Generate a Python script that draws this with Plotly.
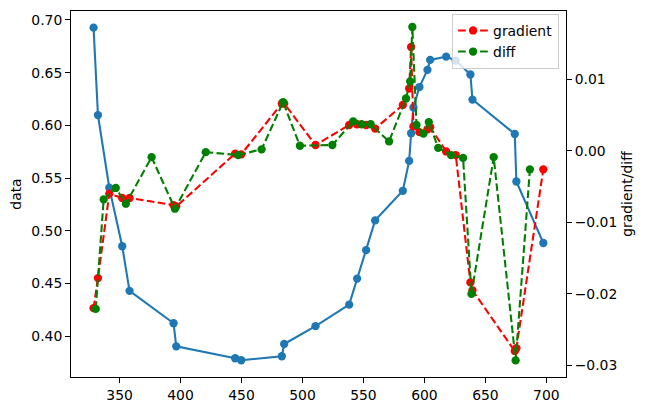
import plotly.graph_objects as go

# data series (blue)
x_data = [328.7, 332.3, 341.6, 352.2, 358.2, 394.3, 396.5, 444.8, 449.8, 483.1,
          485.0, 510.7, 538.3, 544.8, 552.2, 559.6, 582.3, 587.5, 589.1, 591.0,
          595.9, 602.5, 604.7, 617.8, 625.7, 637.7, 639.4, 674.1, 675.4, 697.5]
y_data = [0.6927, 0.6098, 0.5409, 0.4854, 0.4431, 0.4124, 0.3905, 0.3792, 0.3773, 0.3811,
          0.3927, 0.4096, 0.4300, 0.4547, 0.4817, 0.5099, 0.5380, 0.5663, 0.5926, 0.6170,
          0.6364, 0.6527, 0.6621, 0.6652, 0.6615, 0.6483, 0.6245, 0.5919, 0.5468, 0.4885]

# gradient series (red), at the data x positions
y_gradient = [-0.0220, -0.0178, -0.0060, -0.0066, -0.0066, -0.0076, -0.0078, -0.0004, -0.0005, 0.0066,
              0.0066, 0.0008, 0.0036, 0.0037, 0.0036, 0.0031, 0.0064, 0.0087, 0.0145, 0.0034,
              0.0026, 0.0030, 0.0033, -0.0001, -0.0006, -0.0184, -0.0195, -0.0280, -0.0276, -0.0026]

# diff series (green), at midpoints
x_diff = [330.5, 337.0, 346.9, 355.2, 376.3, 395.4, 420.7, 447.3, 466.5, 484.1,
          497.9, 524.5, 541.6, 548.5, 555.9, 571.0, 584.9, 588.3, 590.1, 593.5,
          599.2, 603.6, 611.3, 621.8, 631.7, 638.6, 656.8, 674.8, 686.5]
y_diff = [-0.0221, -0.0068, -0.0052, -0.0074, -0.0009, -0.0081, -0.0002, -0.0006, 0.0002, 0.0068,
          0.0007, 0.0008, 0.0041, 0.0037, 0.0037, 0.0013, 0.0073, 0.0097, 0.0173, 0.0036,
          0.0024, 0.0040, 0.0004, -0.0006, -0.0010, -0.0200, -0.0009, -0.0293, -0.0026]

x_ticks = [350, 400, 450, 500, 550, 600, 650, 700]
y1_ticks = [0.40, 0.45, 0.50, 0.55, 0.60, 0.65, 0.70]
y2_ticks = [-0.03, -0.02, -0.01, 0.00, 0.01]

FONT = "DejaVu Sans"
FS = 13.9
LW = 2.08
DASH = "7.7px,3.3px"

fig = go.Figure()
fig.add_trace(go.Scatter(x=x_data, y=y_data, mode="lines+markers", name="data",
                         line=dict(color="#1f77b4", width=LW),
                         marker=dict(color="#1f77b4", size=8.3),
                         showlegend=False, yaxis="y"))
fig.add_trace(go.Scatter(x=x_data, y=y_gradient, mode="lines+markers", name="gradient",
                         line=dict(color="red", width=LW, dash=DASH),
                         marker=dict(color="red", size=8.3), yaxis="y2"))
fig.add_trace(go.Scatter(x=x_diff, y=y_diff, mode="lines+markers", name="diff",
                         line=dict(color="green", width=LW, dash=DASH),
                         marker=dict(color="green", size=8.3), yaxis="y2"))

axis_common = dict(showgrid=False, zeroline=False, showline=True, linecolor="black",
                   linewidth=1.1, ticks="outside", ticklen=4.9, tickwidth=1.1,
                   tickcolor="black", tickfont=dict(family=FONT, size=FS, color="black"))

fig.update_layout(
    width=647, height=413,
    margin=dict(l=71, r=81, t=10, b=34),
    paper_bgcolor="white", plot_bgcolor="white",
    font=dict(family=FONT, size=FS, color="black"),
    xaxis=dict(range=[310.2, 716.1], tickvals=x_ticks, ticktext=[str(v) for v in x_ticks],
               mirror=True, **axis_common),
    yaxis=dict(range=[0.3614, 0.7085], tickvals=y1_ticks, tickformat=".2f",
               title=dict(text="data", font=dict(family=FONT, size=FS), standoff=6),
               **axis_common),
    yaxis2=dict(range=[-0.03162, 0.01953], tickvals=y2_ticks, tickformat=".2f",
                overlaying="y", side="right",
                title=dict(text="gradient/diff", font=dict(family=FONT, size=FS), standoff=5),
                **axis_common),
    legend=dict(x=0.986, xanchor="right", y=0.992, yanchor="top",
                bgcolor="rgba(255,255,255,0.8)", bordercolor="#cccccc", borderwidth=1,
                font=dict(family=FONT, size=FS), tracegroupgap=0, itemwidth=30),
)

fig.write_html("out.html")
